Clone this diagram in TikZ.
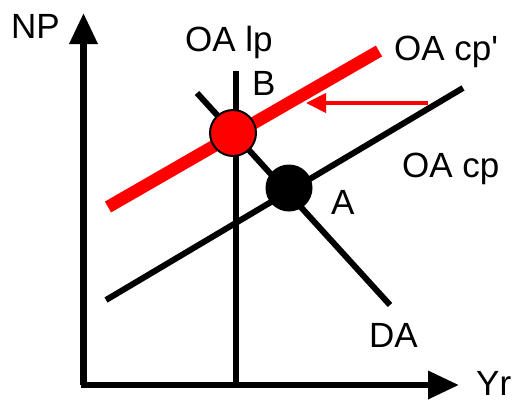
\documentclass[tikz,border=0pt]{standalone}
\usepackage{fontspec}
\setmainfont{Liberation Sans}[Ligatures=TeXOff]
\usetikzlibrary{arrows.meta}
\begin{document}
\begin{tikzpicture}[x=1pt,y=-1pt,
  axis/.style={line width=6.5pt,-{Triangle[length=31pt,width=27pt]}},
  curve/.style={line width=6pt},
  redcurve/.style={line width=12.5pt,red},
  shiftarrow/.style={line width=4pt,red,-{Triangle[length=20pt,width=19pt]}},
  lbl/.style={anchor=base west,inner sep=0pt,font=\fontsize{35}{40}\selectfont},
  redpt/.style={circle,fill=red,draw=black,line width=2pt,minimum size=46pt,inner sep=0pt},
  blackpt/.style={circle,fill=black,minimum size=47pt,inner sep=0pt}]
\useasboundingbox (0,0) rectangle (513,399);
% coordinates
\coordinate (o) at (80.5,385);
\coordinate (ybot) at (83.5,385);
\coordinate (ytop) at (83.5,13);
\coordinate (xend) at (459,385);
\coordinate (lptop) at (236,71);
\coordinate (lpbot) at (236,385);
\coordinate (dastart) at (197,93);
\coordinate (daend) at (390,305);
\coordinate (cpstart) at (106,300);
\coordinate (cpend) at (463,88);
\coordinate (cp2start) at (108,207);
\coordinate (cp2end) at (379,51);
\coordinate (arrstart) at (428,103);
\coordinate (arrend) at (306,103);
% axes
\draw[axis] (ybot) -- (ytop);
\draw[axis] (o) -- (xend);
% curves
\draw[curve] (dastart) -- (daend);
\draw[curve] (lptop) -- (lpbot);
\draw[curve] (cpstart) -- (cpend);
\draw[redcurve] (cp2start) -- (cp2end);
\draw[shiftarrow] (arrstart) -- (arrend);
% points
\node[redpt] (B) at (233,133) {};
\node[blackpt] (A) at (289,188) {};
% labels
\node[lbl] (np) at (11,38) {NP};
\node[lbl] (lp) at (185,51) {OA lp};
\node[lbl] (bl) at (252,95) {B};
\node[lbl] (cp2) at (394,60) {OA cp'};
\node[lbl] (cp) at (402,177) {OA cp};
\node[lbl] (al) at (331,214) {A};
\node[lbl] (da) at (369,347) {DA};
\node[lbl] (yr) at (476,395) {Yr};
\end{tikzpicture}
\end{document}
